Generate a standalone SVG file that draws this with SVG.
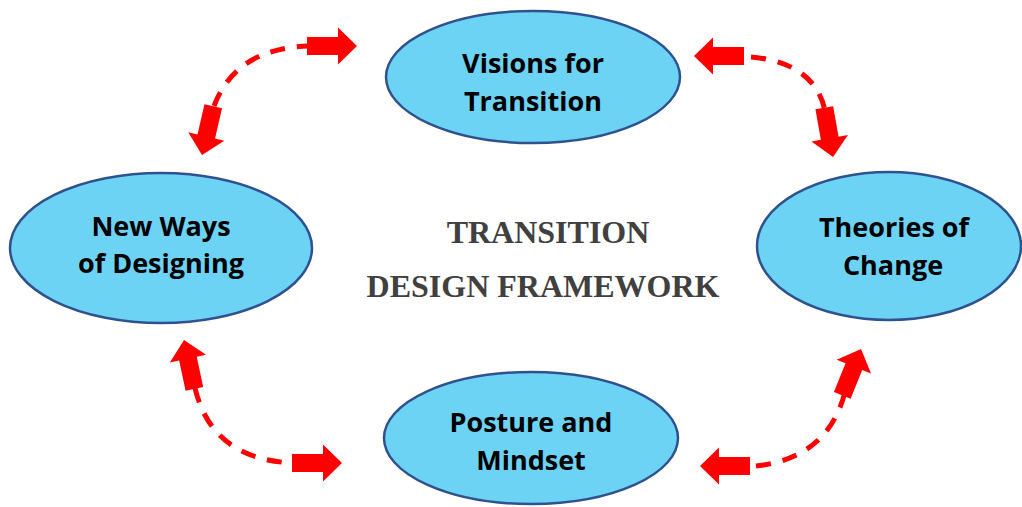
<svg xmlns="http://www.w3.org/2000/svg" xmlns:xlink="http://www.w3.org/1999/xlink" width="1022" height="507" viewBox="0 0 1022 507">
  <style>
    .node ellipse { fill: #6dd3f5; stroke: #2f528f; stroke-width: 2.5; }
    .node text { font-family: "Open Sans", "Liberation Sans", sans-serif; font-weight: 700; font-size: 27px; fill: #000; text-anchor: middle; }
    .title { font-family: "Liberation Serif", "Times New Roman", serif; font-weight: 700; font-size: 32px; fill: #404040; text-anchor: middle; }
    .dash { fill: none; stroke: #ff0000; stroke-width: 5; stroke-dasharray: 15 12; }
    .head { fill: #ff0000; }
  </style>
  <defs>
    <!-- block arrow with its tip at the origin, pointing along +x -->
    <path id="blk" d="M -50 -9 L -19 -9 L -19 -18.5 L 0 0 L -19 18.5 L -19 9 L -50 9 Z"/>
  </defs>

  <rect width="1022" height="507" fill="#ffffff"/>

  <!-- centre title -->
  <text class="title" x="548" y="243">TRANSITION</text>
  <text class="title" x="543" y="297">DESIGN FRAMEWORK</text>

  <!-- connectors: dashed arcs with a block arrow at each end -->
  <g id="connectors">
    <path class="dash" d="M 214 106 Q 236 48 309 46"/>
    <use class="head" xlink:href="#blk" transform="translate(357 46)"/>
    <use class="head" xlink:href="#blk" transform="translate(202 155) rotate(103)"/>

    <path class="dash" d="M 751 57 Q 818 63 826 116"/>
    <use class="head" xlink:href="#blk" transform="translate(694 56) rotate(180)"/>
    <use class="head" xlink:href="#blk" transform="translate(833 157) rotate(80)"/>

    <path class="dash" d="M 195 388 Q 212 460 294 463"/>
    <use class="head" xlink:href="#blk" transform="translate(184 340) rotate(-102)"/>
    <use class="head" xlink:href="#blk" transform="translate(342 463)"/>

    <path class="dash" d="M 756 466 Q 830 458 846 388"/>
    <use class="head" xlink:href="#blk" transform="translate(700 466) rotate(180)"/>
    <use class="head" xlink:href="#blk" transform="translate(861 349) rotate(-68)"/>
  </g>

  <g id="node-visions" class="node">
    <ellipse cx="533" cy="77" rx="147" ry="66"/>
    <text x="533" y="73">Visions for</text>
    <text x="533" y="111">Transition</text>
  </g>

  <g id="node-new-ways" class="node">
    <ellipse cx="161" cy="248" rx="151" ry="75"/>
    <text x="161" y="236">New Ways</text>
    <text x="161" y="273">of Designing</text>
  </g>

  <g id="node-theories" class="node">
    <ellipse cx="889" cy="246" rx="132" ry="74"/>
    <text x="894" y="237">Theories of</text>
    <text x="893" y="275">Change</text>
  </g>

  <g id="node-posture" class="node">
    <ellipse cx="531" cy="438" rx="147" ry="66"/>
    <text x="531" y="432">Posture and</text>
    <text x="531" y="470">Mindset</text>
  </g>
</svg>
